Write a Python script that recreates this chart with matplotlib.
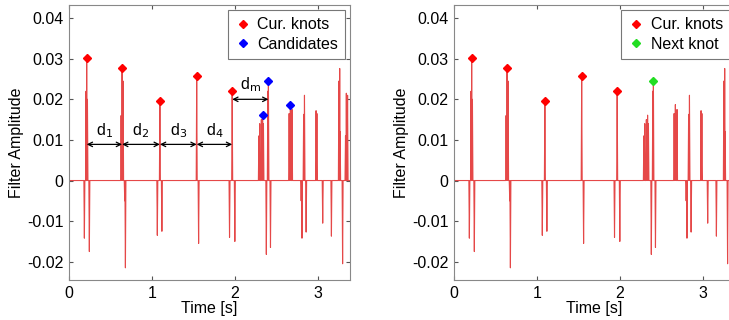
import numpy as np
import matplotlib
matplotlib.use("Agg")
import matplotlib.pyplot as plt

plt.rcParams['font.family'] = ['Liberation Sans', 'DejaVu Sans']

# spike events of the filter output: time [s], amplitude
spike_t = [0.185, 0.205, 0.213, 0.222, 0.245,
           0.628, 0.640, 0.652, 0.672, 0.680,
           1.065, 1.096, 1.120,
           1.540, 1.563,
           1.936, 1.968, 2.000,
           2.290, 2.300, 2.320, 2.335, 2.345, 2.380, 2.398, 2.405, 2.430,
           2.655, 2.670, 2.690,
           2.800, 2.810, 2.830, 2.840, 2.860,
           2.980, 2.990, 3.060, 3.165,
           3.255, 3.265, 3.270, 3.300, 3.335, 3.345, 3.360]
spike_v = [-0.0142, 0.0220, 0.0302, 0.0200, -0.0175,
           0.0160, 0.0278, 0.0245, -0.0050, -0.0215,
           -0.0135, 0.0197, -0.0125,
           0.0258, -0.0155,
           -0.0140, 0.0221, -0.0150,
           0.0110, 0.0140, 0.0150, 0.0161, 0.0140, -0.0182, 0.0220, 0.0244, -0.0165,
           0.0165, 0.0187, 0.0175,
           -0.0050, -0.0142, 0.0163, 0.0210, -0.0127,
           0.0172, 0.0165, -0.0105, -0.0137,
           0.0245, 0.0276, 0.0120, -0.0205, 0.0110, 0.0215, 0.0210]

knot_t = [0.213, 0.640, 1.096, 1.540, 1.968]
knot_v = [0.0302, 0.0278, 0.0197, 0.0258, 0.0221]
cand_t = [2.335, 2.405, 2.670]
cand_v = [0.0161, 0.0244, 0.0187]
next_t = [2.405]
next_v = [0.0244]

# distances between knots (arrows)
dist_labels = ['d$_1$', 'd$_2$', 'd$_3$', 'd$_4$']
dist_y = 0.0089
dm_y = 0.0200

xticks = [0, 1, 2, 3]
yticks = [-0.02, -0.01, 0, 0.01, 0.02, 0.03, 0.04]
ytick_labels = ['-0.02', '-0.01', '0', '0.01', '0.02', '0.03', '0.04']

# build the trace: each spike rises from and falls back to zero
w = 0.006
tt, vv = [0.0], [0.0]
for t, v in zip(spike_t, spike_v):
    tt += [t - w, t, t + w]
    vv += [0.0, v, 0.0]
tt.append(3.4)
vv.append(0.0)

fig = plt.figure(figsize=(7.29, 3.2), dpi=100)
ax1 = fig.add_axes([0.0947, 0.125, 0.3855, 0.859])
ax2 = fig.add_axes([0.6228, 0.125, 0.3855, 0.859])

for ax in (ax1, ax2):
    ax.plot(tt, vv, color='#e54848', lw=0.8, zorder=2)
    ax.set_xlim(0, 3.39)
    ax.set_ylim(-0.0245, 0.0432)
    ax.set_xticks(xticks)
    ax.set_yticks(yticks)
    ax.set_yticklabels(ytick_labels)
    ax.tick_params(direction='in', top=True, right=True, labelsize=11.5,
                   length=3, color='#555555', pad=4)
    for s in ax.spines.values():
        s.set_color('#888888')
        s.set_linewidth(0.8)
    ax.set_xlabel('Time [s]', fontsize=11.5, labelpad=0)
    ax.set_ylabel('Filter Amplitude', fontsize=11.5, labelpad=2)

ax1.plot(knot_t, knot_v, 'D', color='red', ms=4.5, ls='none', label='Cur. knots', zorder=3)
ax1.plot(cand_t, cand_v, 'D', color='blue', ms=4.5, ls='none', label='Candidates', zorder=3)
ax2.plot(knot_t, knot_v, 'D', color='red', ms=4.5, ls='none', label='Cur. knots', zorder=3)
ax2.plot(next_t, next_v, 'D', color='#22dd22', ms=4.5, ls='none', label='Next knot', zorder=3)

for i, lab in enumerate(dist_labels):
    a, b = knot_t[i], knot_t[i + 1]
    ax1.annotate('', xy=(b, dist_y), xytext=(a, dist_y),
                 arrowprops=dict(arrowstyle='<->', color='black', lw=0.9,
                                 shrinkA=0, shrinkB=0, mutation_scale=8))
    ax1.text((a + b) / 2, dist_y + 0.0012, lab, ha='center', va='bottom', fontsize=11.5)

a, b = knot_t[-1], cand_t[1]
ax1.annotate('', xy=(b, dm_y), xytext=(a, dm_y),
             arrowprops=dict(arrowstyle='<->', color='black', lw=0.9,
                             shrinkA=0, shrinkB=0, mutation_scale=8))
ax1.text((a + b) / 2, dm_y + 0.0012, r'd$_\mathrm{m}$', ha='center', va='bottom', fontsize=11.5)

for ax in (ax1, ax2):
    leg = ax.legend(loc='upper right', fontsize=11.5, handletextpad=0.4,
                    handlelength=1.0, borderpad=0.45, labelspacing=0.3,
                    fancybox=False, framealpha=1, borderaxespad=0.3)
    leg.get_frame().set_edgecolor('#777777')
    leg.get_frame().set_linewidth(0.8)

fig.savefig('out.png', dpi=100)
